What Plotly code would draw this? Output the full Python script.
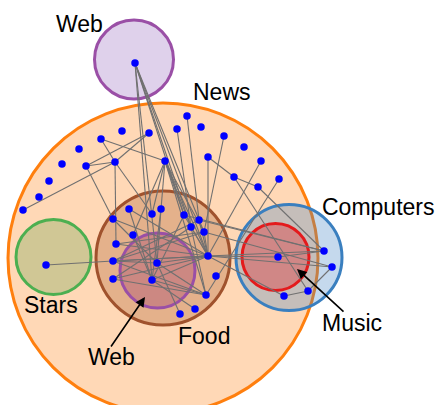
import plotly.graph_objects as go

# ---------------- data ----------------
CIRCLE_NAMES = ["News", "WebTop", "Stars", "Food", "WebInner", "Computers", "Music"]
CIRCLE_CX = [163, 134, 53.5, 163, 157.5, 289, 275.5]
CIRCLE_CY = [258, 59.5, 257, 258, 270.5, 257.5, 257]
CIRCLE_R = [155, 39.5, 37.5, 67, 37.5, 53, 33.5]

NODE_X = [135,
          187, 201, 177, 149, 122, 101, 79, 62, 86, 115, 165, 208, 49, 39, 23,
          224, 244, 261, 234, 279, 258,
          129, 161, 152, 113, 184, 199, 191, 204, 133, 116, 208, 113, 157, 216,
          113, 152, 206, 195, 180,
          46,
          278, 324, 332, 308, 284]
NODE_Y = [63,
          116, 127, 129, 133, 131, 139, 149, 164, 166, 162, 161, 157, 181, 197, 210,
          136, 147, 161, 177, 179, 187,
          209, 209, 214, 219, 215, 220, 227, 232, 235, 244, 256, 261, 263, 276,
          279, 280, 295, 309, 314,
          265,
          257, 251, 267, 291, 296]

EDGES = [
    (6, 11), (6, 10), (4, 9), (4, 10), (9, 10), (15, 10), (9, 25), (10, 31),
    (10, 24), (12, 19), (12, 32), (19, 21), (16, 29), (18, 32), (20, 38),
    (1, 27), (3, 28), (21, 43),
    (0, 37), (0, 34), (0, 26), (0, 28), (0, 32), (0, 29),
    (11, 24), (11, 23), (11, 30), (11, 26), (11, 28), (11, 29), (11, 32), (11, 38),
    (32, 25), (32, 31), (32, 33), (32, 36), (32, 34), (32, 37), (32, 22),
    (32, 26), (32, 27), (32, 28), (32, 29),
    (38, 33), (38, 36), (38, 34), (38, 37), (38, 28),
    (27, 33), (29, 31), (28, 36), (26, 37), (29, 33),
    (34, 25), (34, 33), (37, 30), (37, 22), (37, 23), (34, 23),
    (37, 39), (34, 40),
    (41, 33), (33, 32),
    (32, 42), (32, 43), (32, 44), (32, 46), (42, 43), (19, 45), (45, 46),
    (45, 44), (26, 43), (27, 43), (29, 44),
]

LABELS = ["Web", "News", "Computers", "Stars", "Web", "Food", "Music"]
LABEL_X = [79.5, 222, 377.5, 51, 111, 204, 352]
LABEL_Y = [24, 92, 207, 305, 357, 336, 323]

ARROW_HEAD_X = [145, 297]
ARROW_HEAD_Y = [297, 269]
ARROW_TAIL_X = [110, 345]
ARROW_TAIL_Y = [348, 313]

# ---------------- styles ----------------
circle_style = {
    "News": dict(line="#ff7f0e", fill="rgba(255,127,14,0.30)"),
    "WebTop": dict(line="#9a4fa6", fill="rgba(148,103,189,0.30)"),
    "Stars": dict(line="#4caf50", fill="rgba(120,170,90,0.35)"),
    "Food": dict(line="#a0522d", fill="rgba(165,85,40,0.30)"),
    "WebInner": dict(line="#9a4fa6", fill="rgba(160,60,115,0.35)"),
    "Computers": dict(line="#3a7fbf", fill="rgba(62,128,195,0.30)"),
    "Music": dict(line="#e41a1c", fill="rgba(228,33,38,0.35)"),
}

fig = go.Figure()

shapes = []
for name, cx, cy, r in zip(CIRCLE_NAMES, CIRCLE_CX, CIRCLE_CY, CIRCLE_R):
    st = circle_style[name]
    shapes.append(dict(type="circle", xref="x", yref="y",
                       x0=cx - r, x1=cx + r, y0=cy - r, y1=cy + r,
                       line=dict(color=st["line"], width=3),
                       fillcolor=st["fill"], layer="below"))

ex, ey = [], []
for a, b in EDGES:
    ex += [NODE_X[a], NODE_X[b], None]
    ey += [NODE_Y[a], NODE_Y[b], None]

fig.add_trace(go.Scatter(x=ex, y=ey, mode="lines",
                         line=dict(color="#707070", width=1.1),
                         hoverinfo="skip", showlegend=False))
fig.add_trace(go.Scatter(x=NODE_X, y=NODE_Y, mode="markers",
                         marker=dict(color="#0000ff", size=7.5, line=dict(width=0)),
                         hoverinfo="skip", showlegend=False))

annotations = []
for t, x, y in zip(LABELS, LABEL_X, LABEL_Y):
    annotations.append(dict(x=x, y=y, xref="x", yref="y", text=t, showarrow=False,
                            font=dict(family="Liberation Sans, Arial", size=23, color="black"),
                            xanchor="center", yanchor="middle"))
for hx, hy, tx, ty in zip(ARROW_HEAD_X, ARROW_HEAD_Y, ARROW_TAIL_X, ARROW_TAIL_Y):
    annotations.append(dict(x=hx, y=hy, ax=tx, ay=ty, xref="x", yref="y",
                            axref="x", ayref="y", text="", showarrow=True,
                            arrowhead=2, arrowsize=1.2, arrowwidth=1.6,
                            arrowcolor="black"))

fig.update_layout(
    width=435, height=405,
    margin=dict(l=0, r=0, t=0, b=0),
    paper_bgcolor="white", plot_bgcolor="white",
    shapes=shapes, annotations=annotations,
    xaxis=dict(range=[0, 435], visible=False, fixedrange=True),
    yaxis=dict(range=[405, 0], visible=False, fixedrange=True),
    showlegend=False,
)

fig.write_html("out.html", config={"displayModeBar": False},
               post_script="document.body.style.margin='0';document.body.style.overflow='hidden';")
